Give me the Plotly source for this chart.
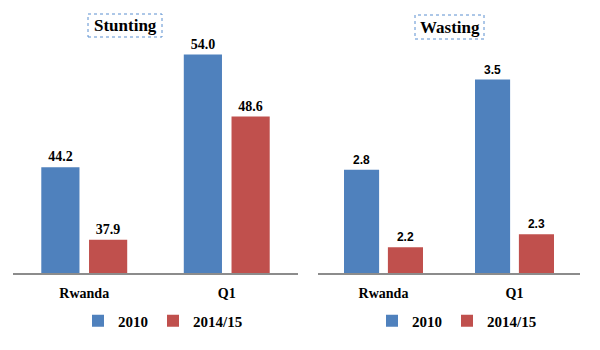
import plotly.graph_objects as go
from plotly.subplots import make_subplots

categories = ["Rwanda", "Q1"]
years = ["2010", "2014/15"]
stunting_2010 = [44.2, 54.0]
stunting_2015 = [37.9, 48.6]
wasting_2010 = [2.8, 3.5]
wasting_2015 = [2.2, 2.3]
panel_titles = ["Stunting", "Wasting"]

BLUE = "#4F81BD"
RED = "#C0504D"
SERIF = "Liberation Serif"
SANS = "Liberation Sans"

fig = make_subplots(rows=1, cols=2)

def add_pair(vals, col, name, color, legend, font):
    fig.add_trace(go.Bar(
        x=categories, y=vals, name=name, marker=dict(color=color, line=dict(width=0)),
        text=[f"{v:.1f}" for v in vals], textposition="outside",
        textfont=dict(family=font["family"], size=font["size"], color="black", weight="bold"),
        cliponaxis=False, legend=legend, hoverinfo="skip"), row=1, col=col)

fnt_left = dict(family=SERIF, size=14)
fnt_right = dict(family=SANS, size=12)
add_pair(stunting_2010, 1, years[0], BLUE, "legend", fnt_left)
add_pair(stunting_2015, 1, years[1], RED, "legend", fnt_left)
add_pair(wasting_2010, 2, years[0], BLUE, "legend2", fnt_right)
add_pair(wasting_2015, 2, years[1], RED, "legend2", fnt_right)

H = 350.0
W = 600.0
ybot = (H - 273) / H
ytop = (H - 40) / H

axis_common = dict(showline=True, linecolor="#8c8c8c", linewidth=1.5, ticks="",
                   showgrid=False, zeroline=False, ticklabelstandoff=6,
                   tickfont=dict(family=SERIF, size=14, color="black", weight="bold"))
fig.update_xaxes(domain=[13 / W, 298 / W], row=1, col=1, **axis_common)
fig.update_xaxes(domain=[318 / W, 580 / W], row=1, col=2, **axis_common)
fig.update_yaxes(visible=False, showgrid=False, domain=[ybot, ytop])
fig.update_yaxes(range=[35, 35 + 233 / 11.5], row=1, col=1)
fig.update_yaxes(range=[2.0, 2.0 + 233 / 129.0], row=1, col=2)

legend_font = dict(family=SERIF, size=15, color="black", weight="bold")
fig.update_layout(
    width=600, height=350,
    margin=dict(l=0, r=0, t=0, b=0),
    paper_bgcolor="white", plot_bgcolor="white",
    barmode="group", bargap=0.33, bargroupgap=0.2,
    showlegend=True,
    legend=dict(orientation="h", x=163 / W, xanchor="center", y=(H - 321) / H, yanchor="middle",
                font=legend_font, bgcolor="rgba(0,0,0,0)", itemclick=False, tracegroupgap=0),
    legend2=dict(orientation="h", x=457 / W, xanchor="center", y=(H - 321) / H, yanchor="middle",
                 font=legend_font, bgcolor="rgba(0,0,0,0)", itemclick=False, tracegroupgap=0),
)

# Panel titles in dotted boxes
boxes = [(88, 162, 14, 37), (415, 484, 15, 39)]
for title, (x0, x1, y0, y1) in zip(panel_titles, boxes):
    fig.add_shape(type="rect", xref="paper", yref="paper",
                  x0=x0 / W, x1=x1 / W, y0=(H - y1) / H, y1=(H - y0) / H,
                  line=dict(color="#5B8FD0", width=1, dash="dot"), fillcolor="rgba(0,0,0,0)")
    fig.add_annotation(text=title, xref="paper", yref="paper",
                       x=(x0 + x1) / 2 / W, y=(H - (y0 + y1) / 2) / H,
                       xanchor="center", yanchor="middle", showarrow=False,
                       font=dict(family=SERIF, size=17, color="black", weight="bold"))

fig.write_html("out.html")
